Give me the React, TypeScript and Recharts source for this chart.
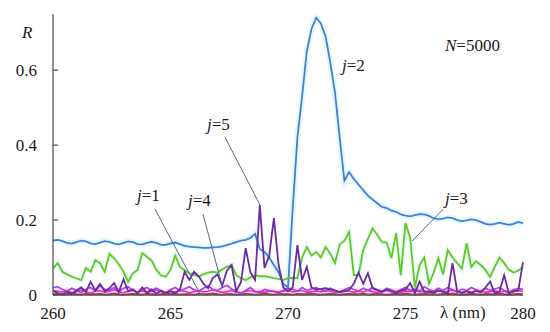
import React from "react";
import { LineChart, Line, XAxis, YAxis, ReferenceLine } from "recharts";

// wavelength grid, nm
const wavelengths = [
  260, 260.2, 260.4, 260.6, 260.8, 261, 261.2, 261.4, 261.6, 261.8,
  262, 262.2, 262.4, 262.6, 262.8, 263, 263.2, 263.4, 263.6, 263.8,
  264, 264.2, 264.4, 264.6, 264.8, 265, 265.2, 265.4, 265.6, 265.8,
  266, 266.2, 266.4, 266.6, 266.8, 267, 267.2, 267.4, 267.6, 267.8,
  268, 268.2, 268.4, 268.6, 268.8, 269, 269.2, 269.4, 269.6, 269.8,
  270, 270.2, 270.4, 270.6, 270.8, 271, 271.2, 271.4, 271.6, 271.8,
  272, 272.2, 272.4, 272.6, 272.8, 273, 273.2, 273.4, 273.6, 273.8,
  274, 274.2, 274.4, 274.6, 274.8, 275, 275.2, 275.4, 275.6, 275.8,
  276, 276.2, 276.4, 276.6, 276.8, 277, 277.2, 277.4, 277.6, 277.8,
  278, 278.2, 278.4, 278.6, 278.8, 279, 279.2, 279.4, 279.6, 279.8,
  280,
];

const j1 = [
  0.002, 0.003, 0.001, 0.002, 0.004, 0.002, 0.001, 0.003, 0.002, 0.002,
  0.003, 0.001, 0.002, 0.004, 0.002, 0.001, 0.002, 0.003, 0.002, 0.001,
  0.003, 0.002, 0.001, 0.002, 0.004, 0.002, 0.003, 0.001, 0.002, 0.002,
  0.001, 0.003, 0.002, 0.002, 0.004, 0.002, 0.001, 0.003, 0.002, 0.001,
  0.002, 0.003, 0.002, 0.001, 0.002, 0.004, 0.002, 0.001, 0.003, 0.002,
  0.002, 0.001, 0.003, 0.002, 0.002, 0.004, 0.002, 0.001, 0.002, 0.003,
  0.002, 0.001, 0.002, 0.003, 0.002, 0.002, 0.004, 0.001, 0.002, 0.003,
  0.002, 0.001, 0.002, 0.003, 0.002, 0.004, 0.002, 0.001, 0.002, 0.003,
  0.002, 0.002, 0.001, 0.003, 0.002, 0.004, 0.002, 0.001, 0.002, 0.003,
  0.002, 0.001, 0.003, 0.002, 0.002, 0.004, 0.002, 0.001, 0.002, 0.003,
  0.002,
];

const j2 = [
  0.145, 0.147, 0.144, 0.139, 0.137, 0.141, 0.145, 0.143, 0.138, 0.136,
  0.14, 0.144, 0.142, 0.137, 0.135, 0.139, 0.143, 0.141, 0.136, 0.135,
  0.139, 0.142, 0.139, 0.134, 0.134, 0.138, 0.14, 0.136, 0.131, 0.129,
  0.128, 0.127, 0.126, 0.126, 0.127, 0.128, 0.13, 0.133, 0.137, 0.141,
  0.145, 0.147, 0.152, 0.163, 0.123, 0.115, 0.1, 0.08, 0.06, 0.03,
  0.02, 0.23, 0.42, 0.53, 0.65, 0.71, 0.74, 0.725, 0.69, 0.62,
  0.54, 0.42, 0.305, 0.328, 0.31, 0.295, 0.28, 0.265, 0.255, 0.245,
  0.235, 0.232, 0.225, 0.222, 0.215, 0.212, 0.21, 0.213, 0.216, 0.215,
  0.211, 0.205, 0.202, 0.204, 0.207, 0.205, 0.2, 0.197, 0.199, 0.202,
  0.2, 0.195, 0.19, 0.188, 0.19, 0.193, 0.19, 0.187, 0.19, 0.195,
  0.192,
];

const j3 = [
  0.071, 0.085, 0.062, 0.055, 0.049, 0.044, 0.04, 0.072, 0.062, 0.093,
  0.085, 0.062, 0.11, 0.098, 0.082, 0.062, 0.035, 0.058, 0.067, 0.112,
  0.102, 0.092, 0.067, 0.052, 0.049, 0.067, 0.105, 0.075, 0.066, 0.058,
  0.054, 0.049, 0.055, 0.06, 0.062, 0.06, 0.068, 0.076, 0.08, 0.053,
  0.045, 0.04, 0.047, 0.053, 0.05, 0.05, 0.048, 0.045, 0.043, 0.04,
  0.045, 0.046, 0.045, 0.1, 0.128, 0.105, 0.115, 0.1, 0.128, 0.11,
  0.085, 0.135, 0.145, 0.168, 0.053, 0.053, 0.12, 0.15, 0.178, 0.16,
  0.141, 0.14, 0.098, 0.165, 0.053, 0.192, 0.152, 0.02, 0.08, 0.1,
  0.03, 0.06, 0.098, 0.055, 0.12, 0.1, 0.085, 0.07, 0.138, 0.075,
  0.09, 0.08, 0.067, 0.048, 0.075, 0.1, 0.085, 0.067, 0.06, 0.065,
  0.075,
];

const j4 = [
  0.02, 0.022, 0.015, 0.01, 0.018, 0.012, 0.006, 0.015, 0.02, 0.01,
  0.025, 0.015, 0.012, 0.02, 0.01, 0.018, 0.022, 0.012, 0.008, 0.015,
  0.02, 0.012, 0.018, 0.01, 0.006, 0.014, 0.02, 0.012, 0.016, 0.022,
  0.014, 0.01, 0.018, 0.024, 0.015, 0.012, 0.02, 0.026, 0.016, 0.01,
  0.004, 0.012, 0.02, 0.01, 0.006, 0.015, 0.012, 0.01, 0.008, 0.012,
  0.018, 0.015, 0.01, 0.02, 0.012, 0.016, 0.02, 0.014, 0.01, 0.018,
  0.012, 0.008, 0.014, 0.02, 0.015, 0.01, 0.018, 0.012, 0.02, 0.015,
  0.01, 0.018, 0.014, 0.008, 0.015, 0.02, 0.012, 0.016, 0.01, 0.022,
  0.015, 0.01, 0.018, 0.012, 0.02, 0.014, 0.008, 0.016, 0.012, 0.02,
  0.014, 0.01, 0.018, 0.012, 0.016, 0.02, 0.012, 0.008, 0.014, 0.018,
  0.015,
];

const j5 = [
  0.012, 0.005, 0.002, 0.008, 0.003, 0.012, 0.02, 0.008, 0.035, 0.012,
  0.03, 0.01, 0.018, 0.032, 0.008, 0.042, 0.01, 0.015, 0.004, 0.02,
  0.006, 0.015, 0.003, 0.012, 0.005, 0.01, 0.004, 0.015, 0.062, 0.04,
  0.062, 0.05, 0.03, 0.018, 0.045, 0.055, 0.025, 0.065, 0.08, 0.01,
  0.035, 0.125, 0.06, 0.04, 0.24, 0.072, 0.105, 0.205, 0.08, 0.02,
  0.01, 0.02, 0.133, 0.04, 0.075, 0.02, 0.015, 0.016, 0.018, 0.015,
  0.012, 0.008, 0.01, 0.014, 0.03, 0.06, 0.03, 0.058, 0.018, 0.012,
  0.008, 0.015, 0.01, 0.005, 0.012, 0.015, 0.032, 0.005, 0.036, 0.008,
  0.01, 0.006, 0.012, 0.008, 0.004, 0.085, 0.01, 0.005, 0.01, 0.004,
  0.012, 0.006, 0.02, 0.036, 0.004, 0.01, 0.053, 0.004, 0.01, 0.012,
  0.088,
];

// near-zero magenta trace (unlabelled)
const j6 = [
  0.012, 0.01, 0.008, 0.012, 0.006, 0.009, 0.013, 0.008, 0.005, 0.01,
  0.012, 0.007, 0.01, 0.014, 0.009, 0.006, 0.01, 0.012, 0.008, 0.011,
  0.007, 0.01, 0.013, 0.009, 0.006, 0.01, 0.008, 0.012, 0.01, 0.006,
  0.009, 0.012, 0.008, 0.01, 0.014, 0.01, 0.007, 0.009, 0.012, 0.008,
  0.006, 0.01, 0.012, 0.008, 0.01, 0.007, 0.011, 0.009, 0.006, 0.01,
  0.013, 0.008, 0.01, 0.012, 0.007, 0.009, 0.011, 0.008, 0.012, 0.01,
  0.006, 0.009, 0.012, 0.01, 0.007, 0.011, 0.008, 0.013, 0.009, 0.006,
  0.01, 0.012, 0.008, 0.01, 0.007, 0.011, 0.009, 0.012, 0.008, 0.01,
  0.006, 0.009, 0.012, 0.008, 0.01, 0.013, 0.009, 0.007, 0.011, 0.008,
  0.01, 0.012, 0.007, 0.009, 0.011, 0.008, 0.01, 0.006, 0.009, 0.012,
  0.01,
];

const xTicks = [260, 265, 270, 275, 280];
const yTicks = [0, 0.2, 0.4, 0.6];

const data = wavelengths.map((wl, i) => ({
  wl,
  j1: j1[i],
  j2: j2[i],
  j3: j3[i],
  j4: j4[i],
  j5: j5[i],
  j6: j6[i],
}));

const FONT = "Liberation Serif";
const LEADER = "#4d6a88";

const YTick = (props: any) => {
  const { x, y, payload } = props;
  return (
    <g>
      <text x={x} y={y} dy="0.35em" textAnchor="end" fontFamily={FONT} fontSize={17} fill="#1a1a1a">
        {payload.value === 0 ? "0" : payload.value.toFixed(1)}
      </text>
      <line x1={x + 16} x2={x + 21} y1={y} y2={y} stroke="#555" strokeWidth={1.3} />
    </g>
  );
};

// html labels, positioned by their baseline-ish top corner
const Tag = ({ x, y, sym, rest }: { x: number; y: number; sym: string; rest?: string }) => (
  <div
    style={{
      position: "absolute",
      left: x,
      top: y,
      fontFamily: FONT,
      fontSize: 17,
      lineHeight: "17px",
      color: "#1a1a1a",
      whiteSpace: "nowrap",
    }}
  >
    <i>{sym}</i>
    {rest}
  </div>
);

export default function App() {
  return (
    <div style={{ position: "absolute", left: 0, top: 0, width: 550, height: 332, background: "#fff", fontFamily: FONT }}>
      <LineChart width={550} height={332} data={data} margin={{ top: 14, right: 27, left: 0, bottom: 7 }}>
        <XAxis
          dataKey="wl"
          type="number"
          domain={[260, 280]}
          ticks={xTicks}
          tickLine={false}
          tickSize={0}
          tickMargin={12}
          height={30}
          axisLine={{ stroke: "#555", strokeWidth: 1.3 }}
          tick={{ fontFamily: FONT, fontSize: 17, fill: "#1a1a1a" }}
        />
        <YAxis
          type="number"
          domain={[0, 0.75]}
          ticks={yTicks}
          width={53}
          tickSize={0}
          tickMargin={16}
          tickLine={false}
          axisLine={{ stroke: "#555", strokeWidth: 1.3 }}
          tick={<YTick />}
        />
        {/* soft halos like the original's colour bleed */}
        <Line dataKey="j2" stroke="#e0fbfb" strokeWidth={6} dot={false} isAnimationActive={false} />
        <Line dataKey="j3" stroke="#e8fbfb" strokeWidth={5} dot={false} isAnimationActive={false} />
        <Line dataKey="j6" stroke="#fce6fc" strokeWidth={7} dot={false} isAnimationActive={false} />
        <Line dataKey="j2" stroke="#4a7bd6" strokeWidth={1.8} dot={false} isAnimationActive={false} />
        <Line dataKey="j3" stroke="#62c81e" strokeWidth={1.8} dot={false} isAnimationActive={false} />
        <Line dataKey="j1" stroke="#b5382a" strokeWidth={1.8} dot={false} isAnimationActive={false} />
        <Line dataKey="j6" stroke="#e028d8" strokeWidth={1.6} dot={false} isAnimationActive={false} />
        <Line dataKey="j4" stroke="#a245d8" strokeWidth={1.6} dot={false} isAnimationActive={false} />
        <Line dataKey="j5" stroke="#6a2aa0" strokeWidth={1.8} dot={false} isAnimationActive={false} />
        <ReferenceLine segment={[{ x: 267.32, y: 0.421 }, { x: 268.81, y: 0.24 }]} stroke={LEADER} strokeWidth={1} />
        <ReferenceLine segment={[{ x: 264.34, y: 0.229 }, { x: 266.26, y: 0.003 }]} stroke={LEADER} strokeWidth={1} />
        <ReferenceLine segment={[{ x: 266.38, y: 0.216 }, { x: 267.19, y: 0.027 }]} stroke={LEADER} strokeWidth={1} />
        <ReferenceLine segment={[{ x: 276.6, y: 0.229 }, { x: 275.28, y: 0.144 }]} stroke={LEADER} strokeWidth={1} />
      </LineChart>
      <Tag x={22} y={24} sym="R" />
      <Tag x={445} y={37} sym="N" rest="=5000" />
      <Tag x={342} y={57} sym="j" rest="=2" />
      <Tag x={207} y={116} sym="j" rest="=5" />
      <Tag x={137} y={187} sym="j" rest="=1" />
      <Tag x={188} y={192} sym="j" rest="=4" />
      <Tag x={445} y={190} sym="j" rest="=3" />
      <Tag x={440} y={304} sym="" rest="λ (nm)" />
    </div>
  );
}
